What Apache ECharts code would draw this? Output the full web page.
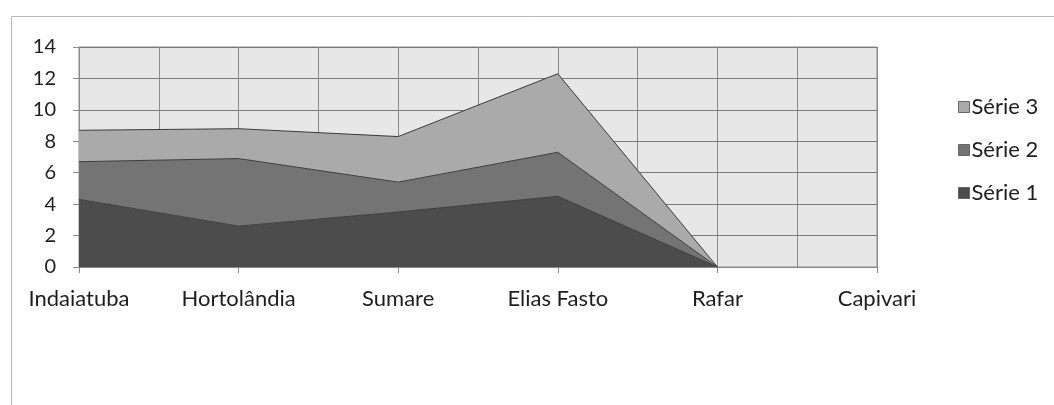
<!DOCTYPE html>
<html>
<head>
<meta charset="utf-8">
<script src="https://cdn.jsdelivr.net/npm/echarts@6/dist/echarts.min.js"></script>
<style>
  html, body { margin: 0; padding: 0; background: #ffffff; }
  #chart { width: 1054px; height: 405px; }
</style>
</head>
<body>
<div id="chart"></div>
<script>
// Cidades (eixo horizontal)
const categories = ['Indaiatuba', 'Hortolândia', 'Sumare', 'Elias Fasto', 'Rafar', 'Capivari'];

// Valores de cada série (Capivari sem dados)
const serie1 = [4.3, 2.6, 3.5, 4.5, 0, null];
const serie2 = [2.4, 4.3, 1.9, 2.8, 0, null];
const serie3 = [2.0, 1.9, 2.9, 5.0, 0, null];

const seriesNames = ['Série 1', 'Série 2', 'Série 3'];
const yTicks = { min: 0, max: 14, step: 2 };

const fills = ['#4c4c4c', '#747474', '#aaaaaa'];
const font = 'Lato, "Open Sans", sans-serif';

const chart = echarts.init(document.getElementById('chart'), null, { renderer: 'canvas' });

const seriesData = [serie1, serie2, serie3];

chart.setOption({
  backgroundColor: '#ffffff',
  animation: false,
  textStyle: { fontFamily: font },
  graphic: [{
    type: 'rect',
    left: 9, top: 14,
    shape: { width: 1100, height: 500 },
    style: { fill: 'none', stroke: '#b8b8b8', lineWidth: 1 },
    silent: true
  }],
  grid: {
    left: 79, right: 177, top: 47, bottom: 138,
    show: true, backgroundColor: '#e7e7e7', borderColor: '#8a8a8a', borderWidth: 1
  },
  legend: {
    orient: 'vertical',
    left: 953, top: 91,
    itemGap: 21,
    itemWidth: 11, itemHeight: 11,
    icon: 'rect',
    itemStyle: { borderColor: '#666', borderWidth: 1 },
    textStyle: { fontSize: 22, color: '#1e1e1e', fontFamily: font, padding: [0, 0, 0, -3] },
    data: [seriesNames[2], seriesNames[1], seriesNames[0]]
  },
  xAxis: [{
    type: 'category',
    data: categories,
    boundaryGap: false,
    axisLine: { show: true, lineStyle: { color: '#8a8a8a' } },
    axisTick: { show: true, length: 6, lineStyle: { color: '#8a8a8a' } },
    axisLabel: { fontSize: 22, color: '#1e1e1e', margin: 21, fontFamily: font },
    splitLine: { show: false }
  }, {
    // linhas verticais da grade a cada meia categoria
    type: 'value',
    min: 0, max: (categories.length - 1) * 2, interval: 1,
    position: 'bottom',
    axisLine: { show: false }, axisTick: { show: false }, axisLabel: { show: false },
    splitLine: { show: true, lineStyle: { color: '#8a8a8a', width: 1 } }
  }],
  yAxis: {
    type: 'value',
    min: yTicks.min, max: yTicks.max, interval: yTicks.step,
    axisLine: { show: true, lineStyle: { color: '#8a8a8a' } },
    axisTick: { show: true, length: 6, lineStyle: { color: '#8a8a8a' } },
    axisLabel: { fontSize: 20, color: '#1e1e1e', margin: 23, fontFamily: font },
    splitLine: { show: true, lineStyle: { color: '#7a7a7a', width: 1 } }
  },
  series: seriesData.map((d, i) => ({
    name: seriesNames[i],
    type: 'line',
    stack: 'total',
    data: d,
    xAxisIndex: 0,
    symbol: 'none',
    connectNulls: false,
    itemStyle: { color: fills[i] },
    lineStyle: { color: '#3c3c3c', width: 1 },
    areaStyle: { color: fills[i], opacity: 1 },
    z: 3
  }))
});
</script>
</body>
</html>
